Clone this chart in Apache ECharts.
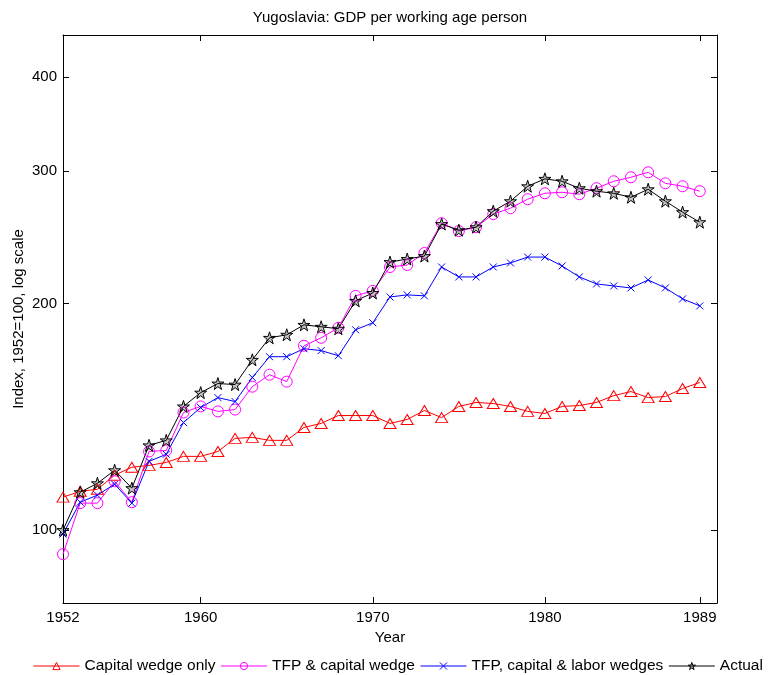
<!DOCTYPE html>
<html>
<head>
<meta charset="utf-8">
<script src="https://cdn.jsdelivr.net/npm/echarts@6/dist/echarts.min.js"></script>
<style>
html,body{margin:0;padding:0;background:#fff;}
#chart{width:768px;height:675px;}
</style>
</head>
<body>
<div id="chart"></div>
<script>
const years = [1952,1953,1954,1955,1956,1957,1958,1959,1960,1961,1962,1963,1964,1965,1966,1967,1968,1969,1970,1971,1972,1973,1974,1975,1976,1977,1978,1979,1980,1981,1982,1983,1984,1985,1986,1987,1988,1989];
const capitalWedge = [110.6,112.6,113.3,118.3,121.2,121.9,123.0,125.3,125.3,127.2,132.4,132.8,131.6,131.6,136.9,138.6,142.0,142.0,142.0,138.6,140.3,144.2,141.1,146.0,147.8,147.3,146.0,143.8,142.9,146.0,146.4,147.8,150.9,152.8,150.0,150.5,154.2,157.1];
const tfpCapital = [92.9,108.6,108.6,116.1,108.9,127.2,127.6,143.3,146.0,143.8,144.6,155.1,160.9,157.5,175.8,180.1,185.7,204.8,207.9,223.7,225.1,233.5,255.8,249.7,252.7,263.0,267.8,275.3,280.3,281.2,279.5,284.7,290.8,294.4,298.9,289.0,286.4,282.1];
const tfpCapitalLabor = [98.8,108.9,111.3,115.1,108.6,123.4,126.1,139.0,145.5,150.0,148.2,159.5,170.0,170.0,174.2,173.2,170.5,184.6,188.6,204.1,205.4,204.8,223.7,217.0,217.0,223.7,226.5,230.6,230.6,224.4,217.0,212.4,211.1,209.8,215.0,209.8,202.9,198.6];
const actual = [100.0,112.3,115.4,120.1,113.7,129.6,131.6,146.0,152.3,156.6,156.1,168.4,180.1,181.8,187.4,186.3,185.2,201.7,206.6,227.1,229.2,231.3,255.1,250.4,252.7,265.4,273.6,286.4,293.0,290.8,284.7,282.1,280.3,276.9,283.8,273.6,264.6,256.6];
const xTicks = [1952,1960,1970,1980,1989];
const yTicks = [100,200,300,400];
const seriesNames = ['Capital wedge only','TFP & capital wedge','TFP, capital & labor wedges','Actual'];

const FONT = 'Liberation Sans, Arial, Helvetica, sans-serif';
const pairs = arr => years.map((y,i)=>[y,arr[i]]);
const STAR = 'path://M50,0 L61.2,34.5 L97.6,34.5 L68.2,55.9 L79.4,90.5 L50,69.1 L20.6,90.5 L31.8,55.9 L2.4,34.5 L38.8,34.5 Z';
const XMARK = 'path://M0,0 L10,10 M10,0 L0,10';
const colors = ['#ff0000','#ff00ff','#0000ff','#000000'];
const fills = ['rgba(0,0,0,0)','rgba(0,0,0,0)','rgba(0,0,0,0)','rgba(0,0,0,0.22)'];

function mkSeries(i, arr, symbol, size){
  return {
    name: seriesNames[i], type:'line', data: pairs(arr), xAxisIndex:0, yAxisIndex:0,
    symbol, symbolSize:size, showSymbol:true,
    lineStyle:{color:colors[i], width:1},
    itemStyle:{color: fills[i], borderColor:colors[i], borderWidth:1},
    emphasis:{disabled:true}, silent:true, z:2
  };
}

const axisCommon = {
  axisLine:{show:true, onZero:false, lineStyle:{color:'#000', width:1}},
  splitLine:{show:false},
  minorTick:{show:false}
};

const option = {
  animation:false,
  backgroundColor:'#fff',
  title:{text:'Yugoslavia: GDP per working age person', left:390, textAlign:'center', top:10, padding:0,
    textStyle:{fontFamily:FONT, fontSize:15, fontWeight:'normal', color:'#000'}},
  grid:{left:63, right:51, top:35, bottom:72, containLabel:false, outerBoundsMode:'none'},
  legend:{
    data: seriesNames.map((n,i)=>({name:n, itemStyle:{color:fills[i], borderColor:colors[i], borderWidth:1}, lineStyle:{color:colors[i], width:1}})),
    left:33, top:658, width:750, padding:0, itemWidth:46, itemHeight:9, itemGap:5,
    textStyle:{fontFamily:FONT, fontSize:15.5, color:'#000'},
    selectedMode:false
  },
  xAxis:[
    Object.assign({}, axisCommon, {
      type:'value', min:1952, max:1990, position:'bottom',
      axisTick:{show:true, inside:true, length:6, customValues:xTicks, lineStyle:{color:'#000'}},
      axisLabel:{show:true, customValues:xTicks, formatter:v=>String(v), color:'#000', fontFamily:FONT, fontSize:15, margin:7},
      name:'Year', nameLocation:'middle', nameGap:27, nameMoveOverlap:false,
      nameTextStyle:{fontFamily:FONT, fontSize:15, color:'#000'}
    }),
    Object.assign({}, axisCommon, {
      type:'value', min:1952, max:1990, position:'top',
      axisTick:{show:true, inside:true, length:6, customValues:xTicks, lineStyle:{color:'#000'}},
      axisLabel:{show:false}
    })
  ],
  yAxis:[
    Object.assign({}, axisCommon, {
      type:'log', logBase:10, min:80, max:455, position:'left',
      axisTick:{show:true, inside:true, length:6, customValues:yTicks, lineStyle:{color:'#000'}},
      axisLabel:{show:true, customValues:yTicks, formatter:v=>String(v), color:'#000', fontFamily:FONT, fontSize:15, margin:6},
      name:'Index, 1952=100, log scale', nameLocation:'middle', nameGap:37, nameMoveOverlap:false,
      nameTextStyle:{fontFamily:FONT, fontSize:15, color:'#000'}
    }),
    Object.assign({}, axisCommon, {
      type:'log', logBase:10, min:80, max:455, position:'right',
      axisTick:{show:true, inside:true, length:6, customValues:yTicks, lineStyle:{color:'#000'}},
      axisLabel:{show:false}
    })
  ],
  series:[
    mkSeries(0, capitalWedge, 'triangle', [12,10]),
    mkSeries(1, tfpCapital, 'circle', 11),
    mkSeries(2, tfpCapitalLabor, XMARK, 7),
    mkSeries(3, actual, STAR, 12)
  ]
};
const chart = echarts.init(document.getElementById('chart'), null, {renderer:'canvas'});
chart.setOption(option);
</script>
</body>
</html>
